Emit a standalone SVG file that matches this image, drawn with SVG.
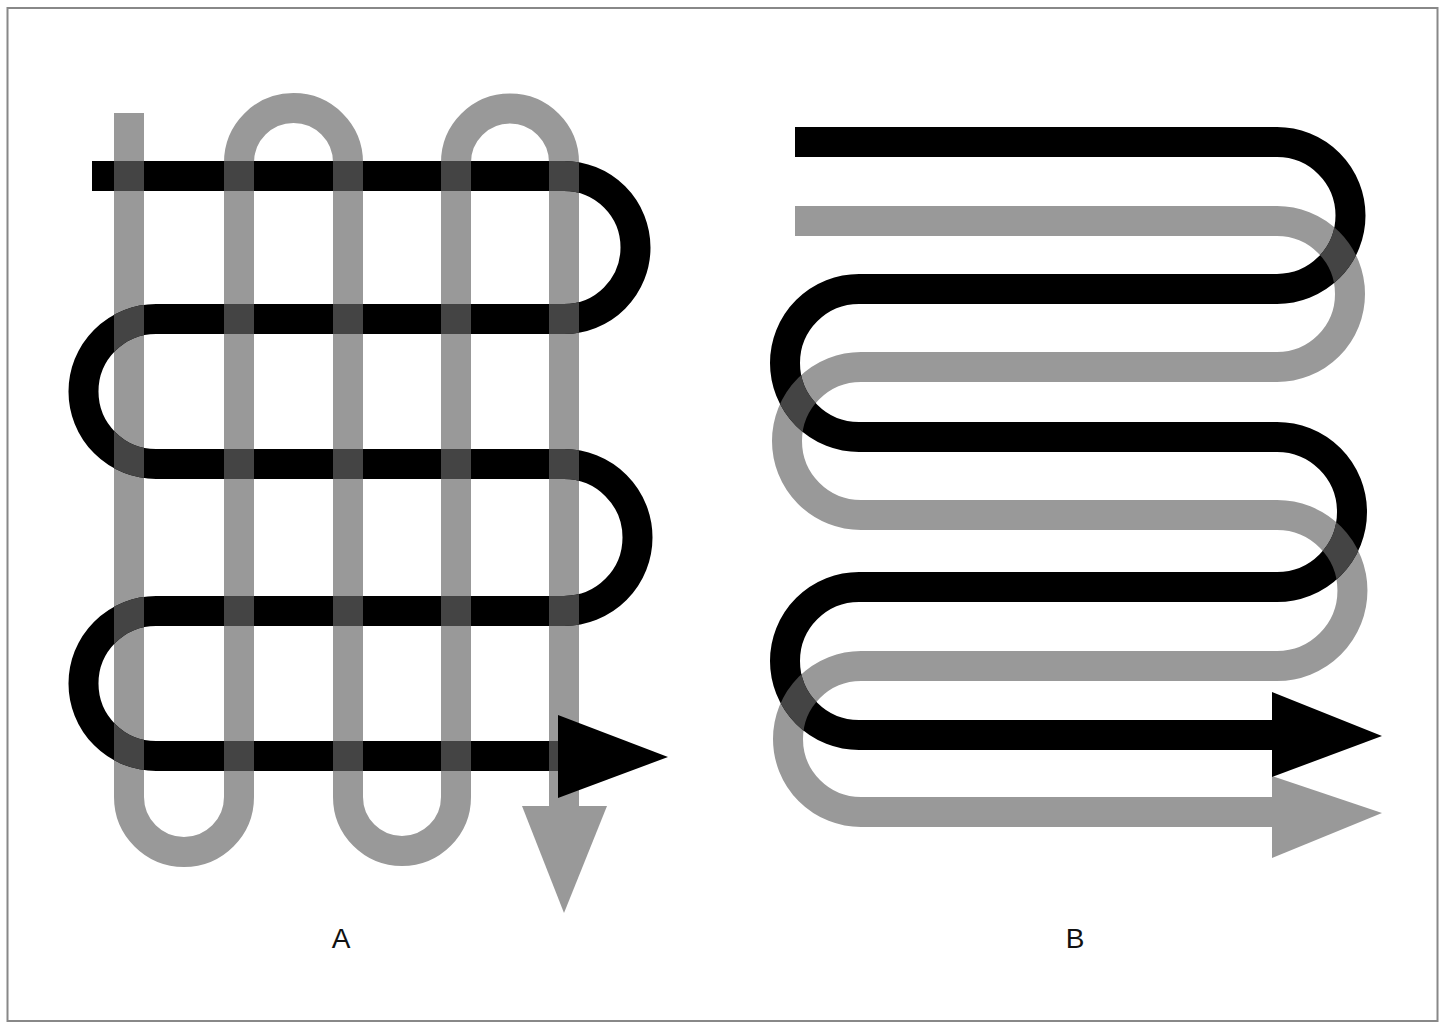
<svg xmlns="http://www.w3.org/2000/svg" width="1442" height="1023" viewBox="0 0 1442 1023">
<style>
.g{fill:none;stroke:#999;stroke-width:30}
.b{fill:none;stroke:#000;stroke-width:30}
.o{fill:none;stroke:#444;stroke-width:30}
.m{fill:none;stroke:#fff;stroke-width:30}
.lbl{font-family:"Liberation Sans",Arial,sans-serif;font-size:28px;fill:#111;text-anchor:middle}
</style>
<defs>
<path id="gA" d="M129,113 V797 A55,55 0 0 0 239,797 V162.5 A54.5,54.5 0 0 1 348,162.5 V797 A54,54 0 0 0 456,797 V162.5 A54,54 0 0 1 564,162.5 V807"/>
<path id="bA" d="M92,176 H564 A71.5,71.5 0 0 1 564,319 H156 A72.5,72.5 0 0 0 156,464 H564 A73.5,73.5 0 0 1 564,611 H156 A72.5,72.5 0 0 0 156,756 H560"/>
<path id="gB" d="M795,221 H1277 A73,73 0 0 1 1277,367 H861 A74,74 0 0 0 861,515 H1277 A75.5,75.5 0 0 1 1277,666 H861 A73,73 0 0 0 861,812 H1274"/>
<path id="bB" d="M795,142 H1277 A73.5,73.5 0 0 1 1277,289 H859 A74,74 0 0 0 859,437 H1277 A75,75 0 0 1 1277,587 H859 A74,74 0 0 0 859,735 H1274"/>
<mask id="mA" maskUnits="userSpaceOnUse" x="0" y="0" width="1442" height="1023"><use href="#bA" class="m"/></mask>
<mask id="mB" maskUnits="userSpaceOnUse" x="0" y="0" width="1442" height="1023"><use href="#bB" class="m"/></mask>
</defs>
<rect x="7.5" y="8" width="1430" height="1013" fill="#fff" stroke="#888" stroke-width="2"/>
<g id="diagram-a">
<use href="#gA" class="g"/>
<use href="#bA" class="b"/>
<use href="#gA" class="o" mask="url(#mA)"/>
<polygon points="522,806 607,806 564,913" fill="#999"/>
<polygon points="558,715 558,798 668,757" fill="#000"/>
<text class="lbl" x="341" y="948">A</text>
</g>
<g id="diagram-b">
<use href="#gB" class="g"/>
<use href="#bB" class="b"/>
<use href="#gB" class="o" mask="url(#mB)"/>
<polygon points="1272,776 1272,858 1382,813" fill="#999"/>
<polygon points="1272,692 1272,777 1382,736" fill="#000"/>
<text class="lbl" x="1075" y="948">B</text>
</g>
</svg>
